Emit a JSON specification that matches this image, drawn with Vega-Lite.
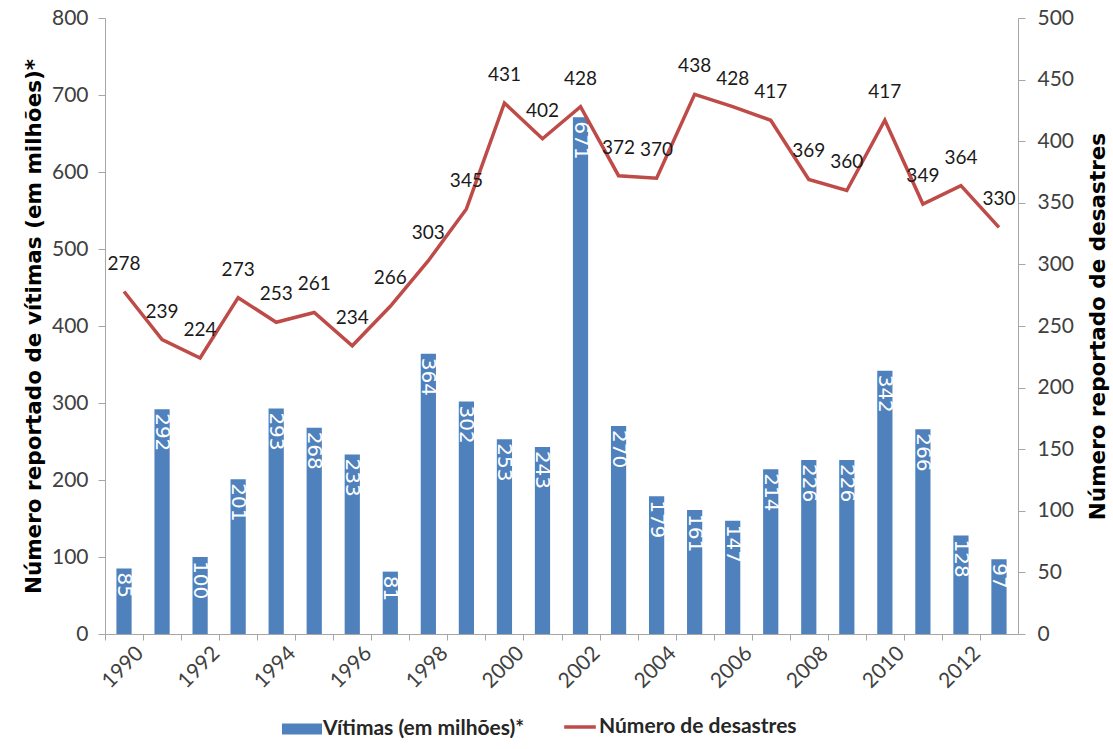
{
  "$schema": "https://vega.github.io/schema/vega-lite/v6.json",
  "autosize": {"type": "none"},
  "padding": {"left": 105, "top": 18, "right": 95, "bottom": 115},
  "width": 913,
  "height": 616,
  "background": "white",
  "config": {
    "view": {"stroke": null},
    "font": "Lato",
    "axis": {"labelFont": "Lato", "titleFont": "DejaVu Sans", "domainColor": "#a6a6a6", "tickColor": "#a6a6a6", "labelColor": "#404040", "titleColor": "#000000", "grid": false}
  },
  "data": {
    "values": [
      {"year": 1990, "victims": 85, "disasters": 278},
      {"year": 1991, "victims": 292, "disasters": 239},
      {"year": 1992, "victims": 100, "disasters": 224},
      {"year": 1993, "victims": 201, "disasters": 273},
      {"year": 1994, "victims": 293, "disasters": 253},
      {"year": 1995, "victims": 268, "disasters": 261},
      {"year": 1996, "victims": 233, "disasters": 234},
      {"year": 1997, "victims": 81, "disasters": 266},
      {"year": 1998, "victims": 364, "disasters": 303},
      {"year": 1999, "victims": 302, "disasters": 345},
      {"year": 2000, "victims": 253, "disasters": 431},
      {"year": 2001, "victims": 243, "disasters": 402},
      {"year": 2002, "victims": 671, "disasters": 428},
      {"year": 2003, "victims": 270, "disasters": 372},
      {"year": 2004, "victims": 179, "disasters": 370},
      {"year": 2005, "victims": 161, "disasters": 438},
      {"year": 2006, "victims": 147, "disasters": 428},
      {"year": 2007, "victims": 214, "disasters": 417},
      {"year": 2008, "victims": 226, "disasters": 369},
      {"year": 2009, "victims": 226, "disasters": 360},
      {"year": 2010, "victims": 342, "disasters": 417},
      {"year": 2011, "victims": 266, "disasters": 349},
      {"year": 2012, "victims": 128, "disasters": 364},
      {"year": 2013, "victims": 97, "disasters": 330}
    ]
  },
  "encoding": {
    "x": {
      "field": "year",
      "type": "ordinal",
      "scale": {"paddingInner": 0.6, "paddingOuter": 0.3},
      "axis": {
        "title": null,
        "labelAngle": -45,
        "labelAlign": "right",
        "labelBaseline": "middle",
        "labelFontSize": 21,
        "labelExpr": "datum.value % 2 == 0 ? datum.label : ''",
        "tickOffset": -19.02,
        "labelOffset": 35,
        "tickSize": 6,
        "labelPadding": 10
      }
    }
  },
  "layer": [
    {
      "layer": [
        {
          "mark": {"type": "bar", "color": "#4F81BD"},
          "encoding": {
            "y": {
              "field": "victims",
              "type": "quantitative",
              "scale": {"domain": [0, 800]},
              "axis": {
                "title": "Número reportado de vítimas (em milhões)*",
                "titleFontSize": 21.5,
                "titleFontWeight": "bold",
                "labelFontSize": 21,
                "values": [0, 100, 200, 300, 400, 500, 600, 700, 800],
                "tickSize": 7,
                "labelPadding": 10,
                "titlePadding": 6
              }
            },
            "fill": {
              "datum": "Vítimas (em milhões)*",
              "type": "nominal",
              "scale": {"range": ["#4F81BD"]},
              "legend": {
                "title": null,
                "orient": "none",
                "legendX": 177,
                "legendY": 691,
                "symbolType": "M-1,-0.275H1V0.275H-1Z",
                "symbolSize": 1600,
                "symbolStrokeWidth": 0,
                "labelFontSize": 21,
                "labelFontWeight": "bold",
                "labelColor": "#262626",
                "labelOffset": 1,
                "labelLimit": 400
              }
            }
          }
        },
        {
          "mark": {"type": "text", "color": "white", "angle": 90, "align": "left", "baseline": "middle", "dx": 4, "font": "DejaVu Sans", "fontSize": 20},
          "encoding": {
            "y": {"field": "victims", "type": "quantitative"},
            "text": {"field": "victims", "type": "quantitative"}
          }
        }
      ]
    },
    {
      "layer": [
        {
          "mark": {"type": "line", "strokeWidth": 3.5},
          "encoding": {
            "y": {
              "field": "disasters",
              "type": "quantitative",
              "scale": {"domain": [0, 500]},
              "axis": {
                "orient": "right",
                "title": "Número reportado de desastres",
                "titleAngle": -90,
                "titleBaseline": "top",
                "titleFontSize": 21.5,
                "titleFontWeight": "bold",
                "labelFontSize": 21,
                "values": [0, 50, 100, 150, 200, 250, 300, 350, 400, 450, 500],
                "tickSize": 7,
                "labelPadding": 12,
                "titlePadding": 14
              }
            },
            "stroke": {
              "datum": "Número de desastres",
              "type": "nominal",
              "scale": {"range": ["#BE4B48"]},
              "legend": {
                "title": null,
                "orient": "none",
                "legendX": 457,
                "legendY": 691,
                "symbolType": "stroke",
                "symbolSize": 1000,
                "symbolStrokeWidth": 3.5,
                "labelFontSize": 21,
                "labelFontWeight": "bold",
                "labelColor": "#262626",
                "labelOffset": 1,
                "labelLimit": 400
              }
            }
          }
        },
        {
          "mark": {"type": "text", "color": "#1a1a1a", "baseline": "middle", "dy": -28, "fontSize": 19},
          "encoding": {
            "y": {"field": "disasters", "type": "quantitative"},
            "text": {"field": "disasters", "type": "quantitative"}
          }
        }
      ]
    }
  ],
  "resolve": {"scale": {"y": "independent", "fill": "independent", "stroke": "independent"}}
}
